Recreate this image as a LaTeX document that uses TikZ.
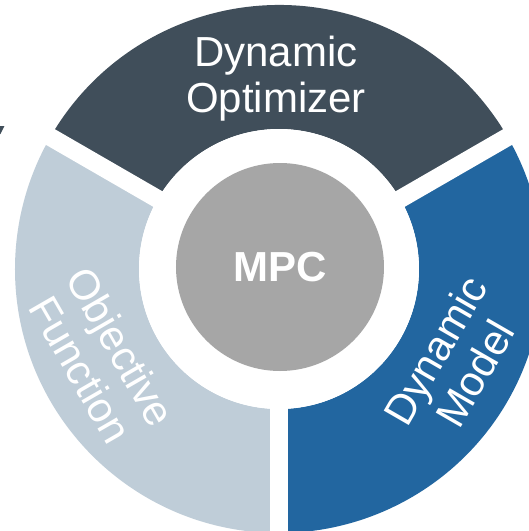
\documentclass[tikz,border=0pt]{standalone}
\usepackage{fontspec}
\setmainfont{Liberation Sans}
\definecolor{optc}{RGB}{64,78,90}
\definecolor{modc}{RGB}{34,102,160}
\definecolor{objc}{RGB}{191,205,216}
\definecolor{mpcc}{RGB}{166,166,166}
\begin{document}
\begin{tikzpicture}[x=1pt,y=1pt,
  segtext/.style={text=white,align=center,font=\fontsize{42}{46}\selectfont,inner sep=0pt},
  gapline/.style={white,line width=18pt}]
\clip (-279,-262) rectangle (250,269);
\fill[white] (-279,-262) rectangle (250,269);
% ring segments
\fill[optc] (30:140) arc (30:150:140) -- (150:264) arc (150:30:264) -- cycle;
\fill[objc] (150:140) arc (150:270:140) -- (270:264) arc (270:150:264) -- cycle;
\fill[modc] (270:140) arc (270:390:140) -- (390:264) arc (390:270:264) -- cycle;
% gaps
\coordinate (c) at (0,0);
\coordinate (g1) at (30:300);
\coordinate (g2) at (150:300);
\coordinate (g3) at (270:300);
\draw[gapline] (c) -- (g1);
\draw[gapline] (c) -- (g2);
\draw[gapline] (c) -- (g3);
\fill[white] (c) circle (140);
% centre
\node[circle,fill=mpcc,minimum size=208pt,inner sep=0pt] (mpcbg) at (1,2) {};
\node[text=white,font=\fontsize{42}{46}\selectfont\bfseries,inner sep=0pt] (mpc) at (1,1.5) {MPC};
% labels
\node[segtext] (opt) at (-3,190) {Dynamic\\Optimizer};
\node[segtext,rotate=-60] (obj) at (-178,-89) {Objective\\Function};
\node[segtext,rotate=60] (mod) at (176,-93) {Dynamic\\Model};
% small clipped mark at the left edge
\fill[optc] (-279,143) -- (-274.5,143) -- (-278.5,135) -- (-279,135) -- cycle;
\end{tikzpicture}
\end{document}
